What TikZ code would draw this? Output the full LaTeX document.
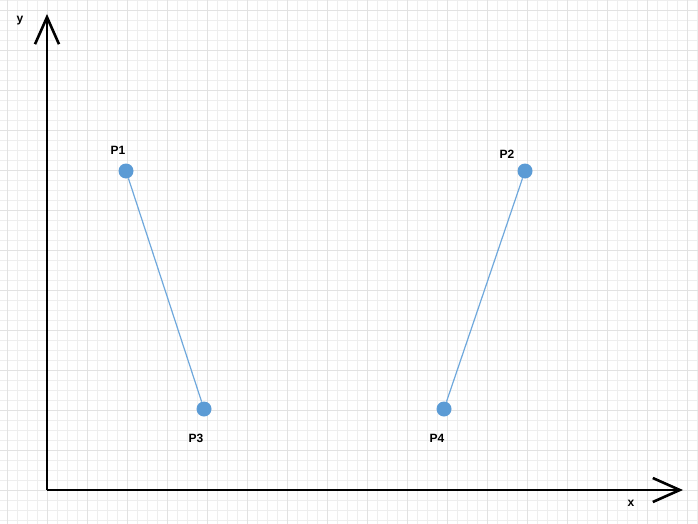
\documentclass[tikz,border=0pt]{standalone}
\usepackage{fontspec}
\setmainfont{Liberation Sans}
\usetikzlibrary{arrows.meta}
\definecolor{gridc}{HTML}{EEEEEE}
\definecolor{gridm}{HTML}{E2E2E2}
\definecolor{dotc}{HTML}{5B9BD5}
\definecolor{segc}{HTML}{6FA8DC}
\tikzset{
  pt/.style={circle, fill=dotc, inner sep=0pt, minimum size=15pt},
  seg/.style={draw=segc, line width=1.2pt},
  axis/.style={line width=2.6pt, -{Straight Barb[length=27pt, width=24pt, line width=2.6pt]}},
  lbl/.style={font=\fontsize{12}{14}\selectfont\bfseries, inner sep=0pt},
}
\begin{document}
\begin{tikzpicture}[x=1pt,y=-1pt]
\useasboundingbox (0,0) rectangle (698,524);
\fill[white] (0,0) rectangle (698,524);
\foreach \x in {7,17,...,697} \draw[gridc, line width=0.8pt] (\x,0) -- (\x,524);
\foreach \y in {0,10,...,520} \draw[gridc, line width=0.8pt] (0,\y) -- (698,\y);
\foreach \x in {7,47,...,697} \draw[gridm, line width=0.8pt] (\x,0) -- (\x,524);
\foreach \y in {10,50,...,520} \draw[gridm, line width=0.8pt] (0,\y) -- (698,\y);
\coordinate (o) at (47,490);
\coordinate (ytip) at (47,14);
\coordinate (xtip) at (683,490);
\draw[axis] (o) -- (ytip);
\draw[axis] (o) -- (xtip);
\node[lbl] (ylab) at (20,21) {y};
\node[lbl] (xlab) at (631,503) {x};
\node[pt] (p1) at (126,171) {};
\node[pt] (p2) at (525,171) {};
\node[pt] (p3) at (204,409) {};
\node[pt] (p4) at (444,409) {};
\draw[seg] (p1) -- (p3);
\draw[seg] (p2) -- (p4);
\node[lbl] (l1) at (118,150) {P1};
\node[lbl] (l2) at (507,154) {P2};
\node[lbl] (l3) at (196,438) {P3};
\node[lbl] (l4) at (437,438) {P4};
\end{tikzpicture}
\end{document}
